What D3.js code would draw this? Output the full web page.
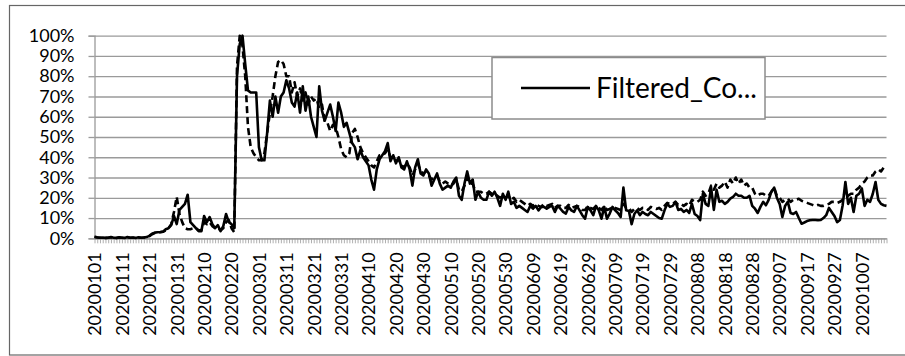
<!DOCTYPE html>
<html><head><meta charset="utf-8">
<script src="https://cdn.jsdelivr.net/npm/d3@7"></script>
<style>html,body{margin:0;padding:0;background:#fff;} svg{display:block;}</style>
</head><body><svg id="c" width="905" height="356"></svg>
<script>
// ---------- data ----------
const startDate = "20200101";
const tickLabels = ["20200101","20200111","20200121","20200131","20200210","20200220","20200301","20200311","20200321","20200331","20200410","20200420","20200430","20200510","20200520","20200530","20200609","20200619","20200629","20200709","20200719","20200729","20200808","20200818","20200828","20200907","20200917","20200927","20201007"];
const yTicks = [0,10,20,30,40,50,60,70,80,90,100];
const legendLabel = "Filtered_Co...";

const solidValues = [
0.8,0.5,0.3,0.4,0.2,0.3,0.6,0.3,0.2,0.5,
0.3,0.2,0.6,0.3,0.4,0.2,0.5,0.3,0.4,0.6,
1.2,2.3,2.8,3,3.1,3.3,4.5,5,6.5,11,
7,14,15.5,17,21.5,8,6.5,5,3.5,3.5,
11,8,10.5,7,5,6.5,3.5,6,12,8,
7,5,80,96,100,86,73,72,72,72,
45,38.5,38.5,52,68,60,70,62,70,72,
78,74,67,65,72,62,75,63,70,60,
55,50,75,63,58,62,66,60,53,67,
62,55,57,52,47,45,39,43.5,40,38,
36,29,24,34,39,41,43,47,38,41,
37,40,35,34,38,34,26,35,39,32,
31,34,32,26,29,32,27,24,25,26,
25,28,30,21,19,27,33,27,29,19,
23,20,19,19,23,21,23,20,16,22,
19,23,17,18,15,16,15,14,13,16,
14.6,16,13.8,15.5,15.5,14.6,15.5,16,13,16,
14.6,13,12.2,15.5,13.8,13,16,13.8,11.4,9.7,
15.5,13.8,11.4,16,13.8,9.7,15.5,9.7,12.2,15.5,
13.8,12.5,10.5,25,13.8,13.5,7,12,13.8,11.4,
13,12,11.4,13,12,11,10,9.7,13.8,17,
15.5,16,18,14,14.5,13,14,12.5,17,12,
11,9,22,17,16,25,14,24,18,18.5,
17,18,19.6,20.4,22,21,21,20,20,21,
16,14.6,12.5,15.5,18,16.3,19,23,25,20,
17,10.5,16,18,12.5,12,13,10,7.2,7.8,
8.5,8.9,9,9,8.9,9,10,11.4,15,13,
11,8,9,16.3,27.8,17,20,13,21,22,
24.6,16,19,18,22,27.8,19,17,16.3,16
];

const dashedValues = [
0.6,0.4,0.3,0.3,0.2,0.3,0.5,0.3,0.2,0.4,
0.3,0.2,0.5,0.3,0.3,0.2,0.4,0.3,0.4,0.5,
1,2,2.6,2.9,3,3.2,4,5,7,13,
20.5,12,8,5,4.5,4.5,5,5,4,4,
8,7,8,6,5,5,4,5,8,9,
5,3,85,100,95,80,55,45,42,40,
38.5,38.5,42,52,62,70,80,87,88,86,
80,80,72,77,70,74,68,72,66,70,
68,69,64,66,58,57,53,56,55,50,
44,41,40,42,52,54,50,45,42,40,
38,36,35,38,41,41,42,44,40,40,
38,39,36,35,37,35,31,34,37,33,
32,33,31,29,30,31,28,27,28,27,
26,27,29,24,23,26,30,27,27,23,
23,23,22,22,23,22,22,21,20,21,
20,21,19,20,18,19,18,17,16,17,
16,17,16,15.5,17,16,16.5,17,15,16,
16,15,15,16.5,15,15.5,16,15.5,14,14,
16,15,14.5,16,15,14,16,14,14.5,15.5,
15,14.5,14,17,15,15,13,14.5,15,14,
15,15,14,15.5,15,14.5,15,14,16,17.5,
17,17,18,16.5,17,16,17,16,19,18,
18,19,23,21,22,26,24,27,25,26,
28,25,29,27,30,27,29,26,27,25,
25,22,21,22,22,21,21,23,25,21,
20,18,19,19.5,18,19,19,19.5,18.5,18,
17.5,17,16.5,16,16.5,16,16,16.5,17,18,
18,17.5,18,19,24,21,22,22,24,25,
27,28,30,31,31,33,34,33,35,35
];

// ---------- build ----------
const parse = d3.utcParse("%Y%m%d"), fmt = d3.utcFormat("%Y%m%d");
const d0 = parse(startDate);
const categories = d3.utcDay.range(d0, d3.utcDay.offset(d0, solidValues.length)).map(fmt);

const W = 905, H = 356;
const plotL = 94.5, plotR = 886.5, plotT = 35.7, plotB = 238.3;
const svg = d3.select("#c");
const font = "Lato, 'Open Sans', sans-serif";
const grid = "#9a9a9a";

// chart border
svg.append("rect").attr("x", 9.5).attr("y", 5.5).attr("width", W).attr("height", H - 6.5)
  .attr("fill", "#fff").attr("stroke", "#666").attr("stroke-width", 1.2);

const x = d3.scalePoint().domain(categories).range([plotL, plotR]);
const y = d3.scaleLinear().domain([0, 100]).range([plotB, plotT]);

// gridlines
const gAxisGrid = svg.append("g").attr("transform", `translate(${plotL},0)`)
  .call(d3.axisLeft(y).tickValues(yTicks).tickSize(-(plotR - plotL)).tickFormat(""));
gAxisGrid.selectAll("line").attr("stroke", grid).attr("stroke-width", 1.3);
gAxisGrid.select(".domain").remove();

// y axis
const gy = svg.append("g").attr("transform", `translate(${plotL},0)`)
  .call(d3.axisLeft(y).tickValues(yTicks).tickSize(6).tickPadding(14).tickFormat(d => d + "%"));
gy.select(".domain").attr("stroke", grid).attr("stroke-width", 1.3);
gy.selectAll("line").attr("stroke", grid).attr("stroke-width", 1.3);
gy.selectAll("text").attr("font-family", font).attr("font-size", 18).attr("fill", "#000");

// x axis
const gx = svg.append("g").attr("transform", `translate(0,${plotB})`)
  .call(d3.axisBottom(x).tickSize(5).tickSizeOuter(0).tickFormat(d => tickLabels.includes(d) ? d : ""));
gx.select(".domain").attr("stroke", grid).attr("stroke-width", 1.3);
gx.selectAll("line").attr("stroke", grid).attr("stroke-width", 0.8);
gx.selectAll("text").attr("font-family", font).attr("font-size", 18).attr("fill", "#000")
  .attr("transform", "rotate(-90)").attr("x", -14).attr("y", 0).attr("dy", "0.35em")
  .style("text-anchor", "end");

// lines
const line = d3.line().x((d, i) => x(categories[i])).y(d => y(d));
svg.append("path").datum(dashedValues).attr("d", line).attr("fill", "none")
  .attr("stroke", "#000").attr("stroke-width", 2.6).attr("stroke-dasharray", "7,4")
  .attr("stroke-linejoin", "round");
svg.append("path").datum(solidValues).attr("d", line).attr("fill", "none")
  .attr("stroke", "#000").attr("stroke-width", 2.6).attr("stroke-linejoin", "round");

// legend
const lg = svg.append("g");
lg.append("rect").attr("x", 492).attr("y", 57.5).attr("width", 273).attr("height", 61.5)
  .attr("fill", "#fff").attr("stroke", "#8c8c8c").attr("stroke-width", 1.5);
lg.append("line").attr("x1", 521).attr("x2", 590).attr("y1", 88).attr("y2", 88)
  .attr("stroke", "#000").attr("stroke-width", 2.6);
lg.append("text").attr("x", 596).attr("y", 88).attr("dy", "0.35em")
  .attr("font-family", font).attr("font-size", 28).attr("fill", "#000").text(legendLabel);
</script></body></html>
